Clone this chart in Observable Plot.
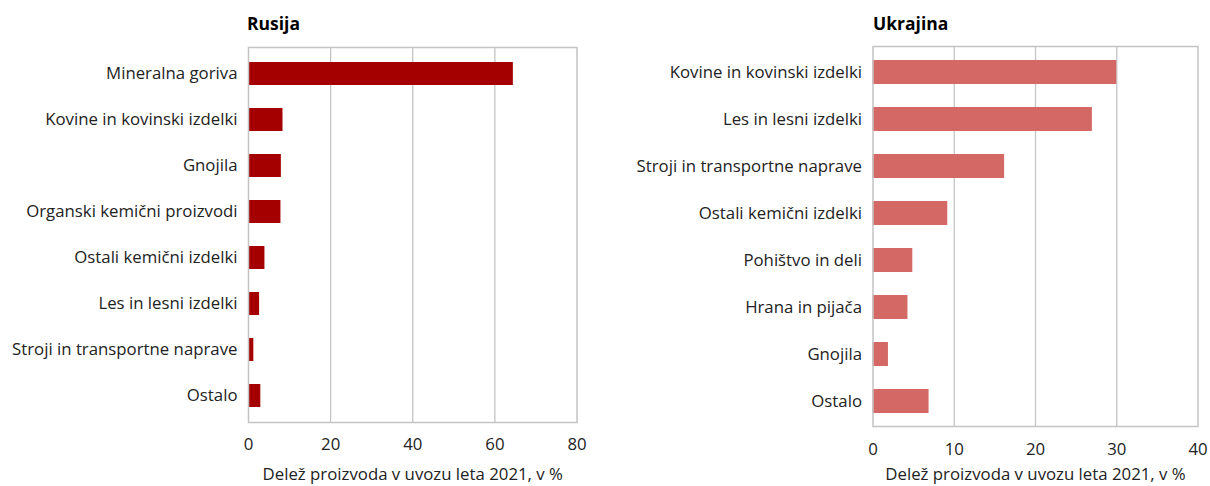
<!DOCTYPE html>
<html>
<head>
<meta charset="utf-8">
<script src="https://cdn.jsdelivr.net/npm/d3@7"></script>
<script src="https://cdn.jsdelivr.net/npm/@observablehq/plot@0.6"></script>
<style>
  body { margin: 0; background: #fff; }
  #wrap { position: relative; width: 1210px; height: 486px; overflow: hidden; font-family: "Open Sans", sans-serif; }
  .title { position: absolute; font-weight: bold; font-size: 17.5px; color: #000; line-height: 1; }
  #wrap svg { position: absolute; top: 0; overflow: visible; }
</style>
</head>
<body>
<div id="wrap">
  <div class="title" id="t1" style="left:247px; top:15px;">Rusija</div>
  <div class="title" id="t2" style="left:873px; top:15px;">Ukrajina</div>
</div>
<script>
const rusCategories = ["Mineralna goriva", "Kovine in kovinski izdelki", "Gnojila", "Organski kemični proizvodi", "Ostali kemični izdelki", "Les in lesni izdelki", "Stroji in transportne naprave", "Ostalo"];
const rusValues = [64.5, 8.4, 8.0, 7.9, 4.0, 2.7, 1.3, 3.0];
const ukrCategories = ["Kovine in kovinski izdelki", "Les in lesni izdelki", "Stroji in transportne naprave", "Ostali kemični izdelki", "Pohištvo in deli", "Hrana in pijača", "Gnojila", "Ostalo"];
const ukrValues = [30.0, 27.0, 16.2, 9.2, 4.9, 4.3, 1.9, 6.9];
const rusTicks = [0, 20, 40, 60, 80];
const ukrTicks = [0, 10, 20, 30, 40];
const axisLabel = "Delež proizvoda v uvozu leta 2021, v %";
const FS = 16.8;

function panel({cats, vals, ticks, color, left, mLeft, mRight, mTop, mBottom, labelDy, yPad}) {
  const data = cats.map((c, i) => ({cat: c, val: vals[i]}));
  const maxT = ticks[ticks.length - 1];
  const svg = Plot.plot({
    width: 605,
    height: 486,
    marginLeft: mLeft,
    marginRight: mRight,
    marginTop: mTop,
    marginBottom: mBottom,
    style: {fontFamily: "'Open Sans', sans-serif", fontSize: FS + "px", color: "#222", background: "transparent"},
    x: {domain: [0, maxT]},
    y: {domain: cats, paddingInner: 0.5, paddingOuter: 0.25},
    marks: [
      Plot.gridX(ticks.slice(1, -1), {stroke: "#c4c4c4", strokeOpacity: 1, strokeWidth: 1.3}),
      Plot.barX(data, {x: "val", y: "cat", fill: color}),
      Plot.frame({stroke: "#c4c4c4", strokeWidth: 1.5}),
      Plot.axisX(ticks, {tickSize: 0, tickPadding: yPad, label: null, fontSize: FS, fill: "#222"}),
      Plot.axisY({tickSize: 0, tickPadding: 11, label: null, fontSize: FS, fill: "#222"}),
      Plot.text([axisLabel], {frameAnchor: "bottom", dy: labelDy, lineAnchor: "middle", fontSize: FS, fill: "#222"})
    ]
  });
  svg.style.left = left + "px";
  document.getElementById("wrap").appendChild(svg);
}

panel({cats: rusCategories, vals: rusValues, ticks: rusTicks, color: "#a40000",
  left: 0, mLeft: 248, mRight: 28.5, mTop: 47, mBottom: 64, labelDy: 52.5, yPad: 16});
panel({cats: ukrCategories, vals: ukrValues, ticks: ukrTicks, color: "#d46865",
  left: 605, mLeft: 267.5, mRight: 12.5, mTop: 46, mBottom: 60, labelDy: 48.5, yPad: 16.5});
</script>
</body>
</html>
